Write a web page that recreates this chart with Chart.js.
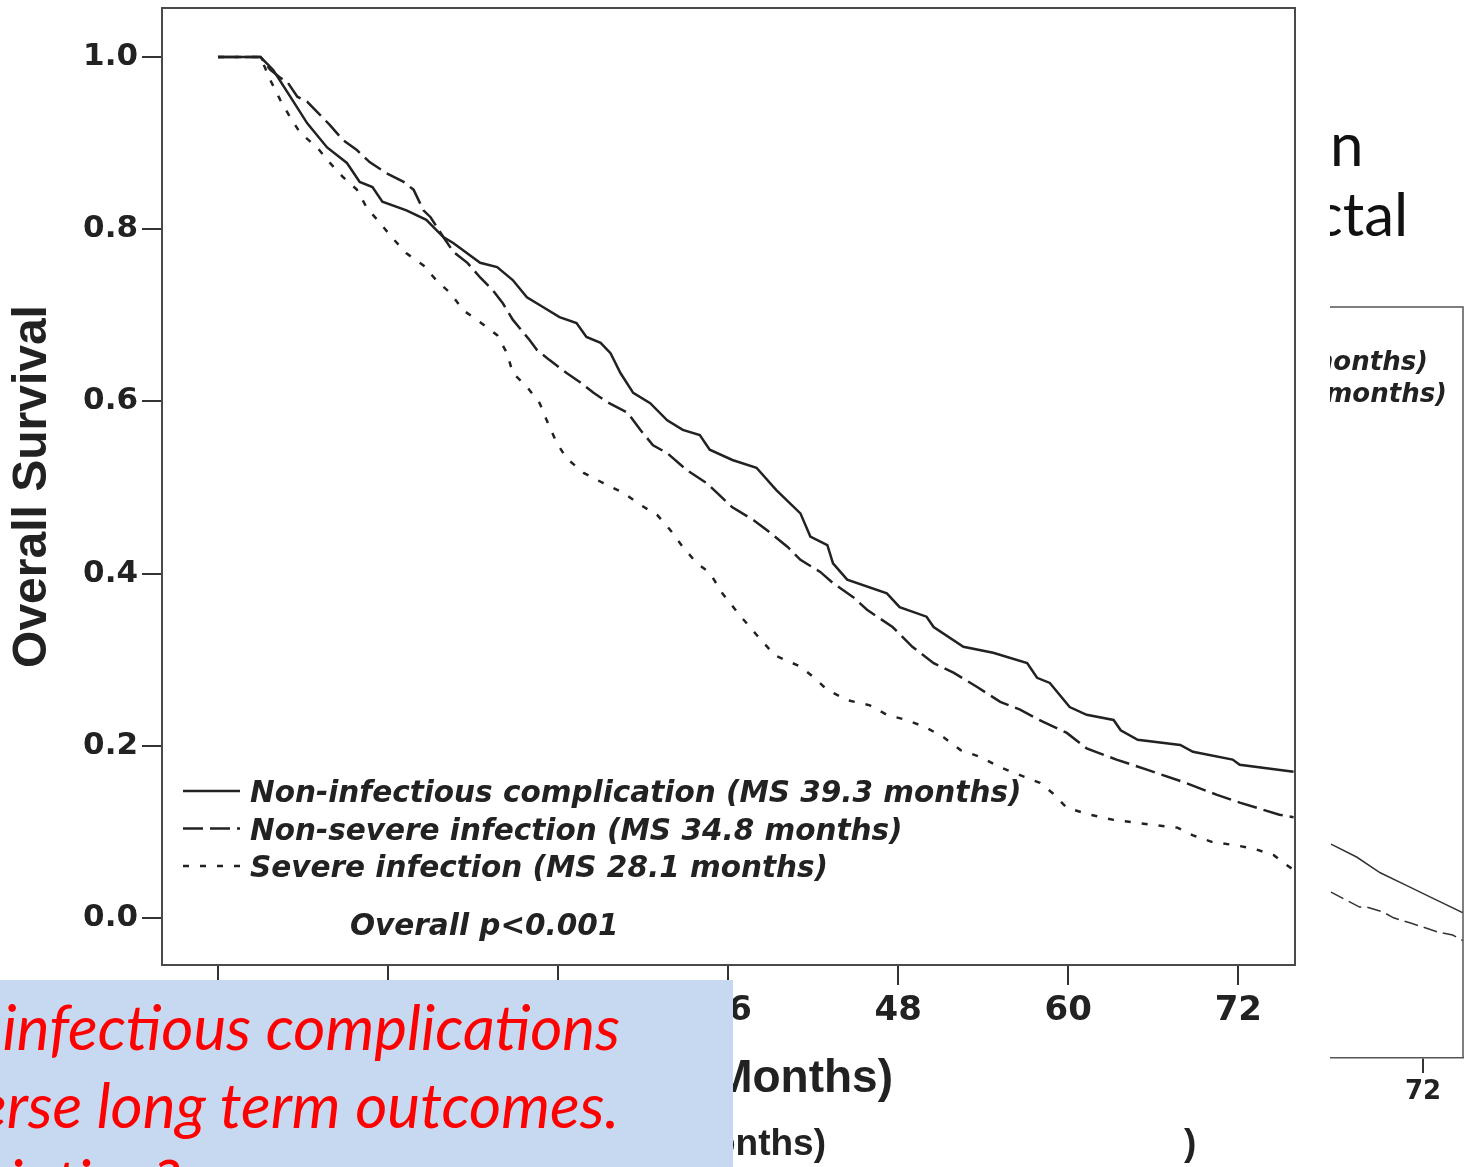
<!DOCTYPE html>
<html>
<head>
<meta charset="utf-8">
<script src="https://cdn.jsdelivr.net/npm/chart.js@4.4.0/dist/chart.umd.min.js"></script>
<style>
  html, body { margin: 0; padding: 0; background: #fff; }
  body { width: 1465px; height: 1167px; position: relative; overflow: hidden; }
  #main { position: absolute; left: 0; top: 0; z-index: 2; }
  #sideWrap { position: absolute; left: 1330px; top: 0; width: 135px; height: 1167px; overflow: hidden; z-index: 1; }
  #side { position: absolute; left: 0; top: 290px; }
  .slideTxt { position: absolute; font-family: Lato, 'Open Sans', sans-serif; font-size: 60px; line-height: 1; color: #111; white-space: nowrap; }
  .capTxt { position: absolute; font-family: 'Liberation Sans', sans-serif; font-weight: bold; font-size: 37px; line-height: 1; color: #222; white-space: nowrap; z-index: 3; }
  #note { position: absolute; left: 0; top: 980px; width: 733px; height: 187px; background: #c6d9f0; overflow: hidden; z-index: 5; }
  #note div { position: absolute; font-family: Lato, 'Open Sans', sans-serif; font-style: italic; font-size: 62px; line-height: 1; color: #ff0000; white-space: nowrap; }
</style>
</head>
<body>
<canvas id="main" width="1465" height="1167"></canvas>

<div id="sideWrap">
  <div class="slideTxt" style="left:0px; top:113px;">n</div>
  <div class="slideTxt" style="left:-16px; top:183px;">ctal</div>
  <canvas id="side" width="135" height="830"></canvas>
</div>

<div class="capTxt" style="right:639px; top:1124px;">(months)</div>
<div class="capTxt" style="left:1184px; top:1124px;">)</div>

<div id="note">
  <div style="right:113px; top:15px;">Do infectious complications</div>
  <div style="right:114px; top:93px;">adverse long term outcomes.</div>
  <div style="right:553px; top:170px;">Association?</div>
</div>

<script>
// ---- main chart data ----
const xTicks = [0, 12, 24, 36, 48, 60, 72];
const yTicks = [0, 0.2, 0.4, 0.6, 0.8, 1.0];
const seriesLabels = [
    'Non-infectious complication (MS 39.3 months)',
    'Non-severe infection (MS 34.8 months)',
    'Severe infection (MS 28.1 months)'
];
const pValueText = 'Overall p<0.001';

const nonInfMonths = [0, 3.0, 3.9, 5.1, 6.3, 7.7, 9.1, 10.0, 10.9, 11.6, 13.3, 14.7, 15.9, 16.6, 18.5, 19.7, 20.8, 21.8, 22.9, 24.1, 25.3, 26.0, 27.0, 27.7, 28.4, 29.3, 30.5, 31.7, 32.8, 34.0, 34.7, 36.3, 38.0, 39.4, 41.1, 41.8, 43.0, 43.4, 44.4, 47.2, 48.1, 50.0, 50.5, 52.6, 54.7, 57.1, 57.8, 58.7, 60.1, 61.3, 63.2, 63.7, 64.9, 67.9, 68.8, 71.6, 72.1, 75.9];
const nonInfSurv = [1.0, 1.0, 0.985, 0.954, 0.923, 0.895, 0.877, 0.855, 0.849, 0.832, 0.822, 0.811, 0.791, 0.784, 0.761, 0.756, 0.741, 0.721, 0.710, 0.698, 0.691, 0.675, 0.668, 0.656, 0.633, 0.610, 0.598, 0.578, 0.567, 0.561, 0.544, 0.532, 0.523, 0.497, 0.470, 0.443, 0.433, 0.412, 0.393, 0.377, 0.361, 0.350, 0.338, 0.315, 0.308, 0.296, 0.279, 0.273, 0.245, 0.236, 0.230, 0.218, 0.207, 0.201, 0.193, 0.184, 0.178, 0.170];

const nonSevMonths = [0, 3.0, 3.7, 4.4, 4.9, 5.6, 6.3, 7.2, 7.9, 8.8, 9.8, 10.7, 11.9, 13.1, 13.8, 14.5, 15.0, 15.9, 16.6, 17.6, 18.5, 19.4, 20.1, 20.8, 22.0, 22.5, 23.4, 24.6, 25.5, 26.5, 27.5, 28.9, 29.8, 30.7, 31.7, 33.1, 34.5, 35.2, 36.3, 37.8, 38.7, 40.2, 41.1, 42.5, 43.4, 44.8, 45.8, 47.6, 49.0, 50.5, 51.9, 53.6, 55.2, 56.6, 58.2, 59.9, 61.3, 63.4, 65.6, 68.1, 70.5, 72.1, 74.9, 75.9];
const nonSevSurv = [1.0, 1.0, 0.985, 0.976, 0.971, 0.954, 0.948, 0.933, 0.921, 0.904, 0.892, 0.878, 0.865, 0.855, 0.846, 0.822, 0.814, 0.791, 0.774, 0.761, 0.744, 0.729, 0.714, 0.695, 0.671, 0.660, 0.648, 0.633, 0.623, 0.610, 0.599, 0.587, 0.567, 0.549, 0.540, 0.520, 0.505, 0.494, 0.477, 0.462, 0.451, 0.431, 0.416, 0.402, 0.389, 0.373, 0.358, 0.338, 0.315, 0.296, 0.285, 0.268, 0.251, 0.242, 0.228, 0.215, 0.197, 0.184, 0.172, 0.158, 0.143, 0.134, 0.120, 0.117];

const sevMonths = [0, 3.0, 3.7, 4.4, 5.1, 5.8, 7.0, 7.9, 8.8, 9.8, 10.5, 11.4, 12.3, 13.3, 14.5, 15.5, 16.4, 17.3, 18.5, 19.7, 20.4, 20.8, 21.8, 22.7, 23.2, 23.9, 24.6, 25.8, 27.2, 28.6, 29.8, 31.0, 31.9, 32.8, 33.8, 34.7, 35.6, 36.8, 38.0, 39.3, 41.1, 42.0, 43.0, 44.4, 46.0, 47.2, 48.6, 50.0, 51.2, 52.4, 53.8, 55.2, 56.6, 58.0, 58.9, 59.9, 61.5, 63.2, 64.6, 66.0, 67.7, 68.8, 70.2, 71.6, 73.0, 74.5, 75.2, 75.9];
const sevSurv = [1.0, 1.0, 0.973, 0.950, 0.930, 0.912, 0.895, 0.877, 0.861, 0.846, 0.825, 0.808, 0.790, 0.772, 0.758, 0.739, 0.726, 0.706, 0.692, 0.677, 0.656, 0.633, 0.617, 0.598, 0.578, 0.552, 0.534, 0.517, 0.505, 0.494, 0.480, 0.468, 0.451, 0.431, 0.412, 0.401, 0.377, 0.352, 0.329, 0.305, 0.292, 0.280, 0.265, 0.253, 0.247, 0.236, 0.230, 0.221, 0.210, 0.195, 0.187, 0.175, 0.166, 0.157, 0.145, 0.128, 0.120, 0.114, 0.111, 0.108, 0.105, 0.096, 0.088, 0.085, 0.081, 0.073, 0.064, 0.056];

// ---- chart of the slide behind (only its right edge shows) ----
const sideTicks = [72];
const sideSolidMonths = [65.77, 67.5, 69.1, 70.9, 72.5, 74.7];
const sideSolidSurv = [0.299, 0.281, 0.259, 0.241, 0.225, 0.203];
const sideDashMonths = [65.77, 67.7, 68.2, 69.3, 70.0, 71.1, 72.0, 73.0, 74.0, 74.7];
const sideDashSurv = [0.232, 0.211, 0.211, 0.204, 0.196, 0.189, 0.183, 0.176, 0.172, 0.164];
const sideLegendTail = ['months)', 'months)'];

const ink = '#222';
const pts = (xs, ys) => xs.map((x, i) => ({ x: x, y: ys[i] }));
const dashes = [[], [20, 7], [6, 11]];

// box round the plot area
const framePlugin = {
    id: 'frame',
    afterDraw(chart) {
        const a = chart.chartArea, ctx = chart.ctx;
        ctx.save();
        ctx.strokeStyle = '#4a4a4a';
        ctx.lineWidth = 2;
        ctx.strokeRect(a.left, a.top, a.right - a.left, a.bottom - a.top);
        ctx.restore();
    }
};

// legend + p value drawn inside the plot, bottom left
const insideLegend = {
    id: 'insideLegend',
    afterDatasetsDraw(chart) {
        const ctx = chart.ctx;
        ctx.save();
        ctx.fillStyle = ink;
        ctx.strokeStyle = ink;
        ctx.lineWidth = 2.5;
        ctx.font = 'italic bold 29.5px "DejaVu Sans"';
        ctx.textBaseline = 'alphabetic';
        chart.data.datasets.forEach((ds, i) => {
            const base = 802 + i * 37.5;
            ctx.setLineDash(ds.borderDash || []);
            ctx.beginPath();
            ctx.moveTo(183, base - 11);
            ctx.lineTo(240, base - 11);
            ctx.stroke();
            ctx.setLineDash([]);
            ctx.fillText(ds.label, 250, base);
        });
        ctx.fillText(pValueText, 350, 935);
        // x axis title, left part is covered by the note box
        ctx.font = 'bold 46px "Liberation Sans"';
        ctx.textAlign = 'right';
        ctx.fillText('Time (Months)', 893, 1092);
        ctx.restore();
    }
};

new Chart(document.getElementById('main'), {
    type: 'line',
    data: {
        datasets: [
            { label: seriesLabels[0], data: pts(nonInfMonths, nonInfSurv), borderDash: dashes[0] },
            { label: seriesLabels[1], data: pts(nonSevMonths, nonSevSurv), borderDash: dashes[1] },
            { label: seriesLabels[2], data: pts(sevMonths, sevSurv), borderDash: dashes[2] }
        ].map(d => Object.assign(d, { borderColor: ink, borderWidth: 2.5, pointRadius: 0, tension: 0, fill: false }))
    },
    options: {
        responsive: false,
        animation: false,
        layout: { padding: { left: 0, top: 8, right: 170, bottom: 0 } },
        plugins: { legend: { display: false }, tooltip: { enabled: false } },
        scales: {
            x: {
                type: 'linear', min: -3.95, max: 76,
                afterBuildTicks: s => { s.ticks = xTicks.map(v => ({ value: v })); },
                afterFit: s => { s.height = 1167 - 965; s.paddingLeft = 0; s.paddingRight = 0; },
                grid: { drawOnChartArea: false, tickLength: 20, color: '#333', lineWidth: 2 },
                border: { color: '#4a4a4a', width: 2 },
                ticks: { font: { family: 'DejaVu Sans', weight: 'bold', size: 34 }, color: ink, padding: 6, maxRotation: 0, autoSkip: false, callback: v => String(v) }
            },
            y: {
                type: 'linear', min: -0.0546, max: 1.057,
                afterBuildTicks: s => { s.ticks = yTicks.map(v => ({ value: v })); },
                afterFit: s => { s.width = 162; s.paddingTop = 0; s.paddingBottom = 0; },
                grid: { drawOnChartArea: false, tickLength: 20, color: '#333', lineWidth: 2 },
                border: { color: '#4a4a4a', width: 2 },
                ticks: { font: { family: 'DejaVu Sans', weight: 'bold', size: 31 }, color: ink, padding: 4, callback: v => v.toFixed(1) },
                title: { display: true, text: 'Overall Survival', color: ink, font: { family: 'Liberation Sans', weight: 'bold', size: 48 }, padding: { top: 4, bottom: 0 } }
            }
        }
    },
    plugins: [framePlugin, insideLegend]
});

// background slide chart, clipped by its wrapper
const sideFrame = {
    id: 'sideFrame',
    afterDraw(chart) {
        const a = chart.chartArea, ctx = chart.ctx;
        ctx.save();
        ctx.strokeStyle = '#555';
        ctx.lineWidth = 1.5;
        ctx.beginPath();
        ctx.moveTo(a.left, a.top);
        ctx.lineTo(a.right, a.top);
        ctx.lineTo(a.right, a.bottom);
        ctx.stroke();
        ctx.fillStyle = ink;
        ctx.font = 'italic bold 26px "DejaVu Sans"';
        ctx.textAlign = 'right';
        ctx.fillText(sideLegendTail[0], 98, 80);
        ctx.fillText(sideLegendTail[1], 117, 112);
        ctx.restore();
    }
};

new Chart(document.getElementById('side'), {
    type: 'line',
    data: {
        datasets: [
            { data: pts(sideSolidMonths, sideSolidSurv), borderDash: [] },
            { data: pts(sideDashMonths, sideDashSurv), borderDash: [14, 6] }
        ].map(d => Object.assign(d, { borderColor: '#333', borderWidth: 1.5, pointRadius: 0, tension: 0, fill: false }))
    },
    options: {
        responsive: false,
        animation: false,
        layout: { padding: { left: 0, top: 17, right: 2, bottom: 0 } },
        plugins: { legend: { display: false }, tooltip: { enabled: false } },
        scales: {
            x: {
                type: 'linear', min: 65.7, max: 74.7,
                afterBuildTicks: s => { s.ticks = sideTicks.map(v => ({ value: v })); },
                afterFit: s => { s.height = 830 - 768; s.paddingLeft = 0; s.paddingRight = 0; },
                grid: { drawOnChartArea: false, tickLength: 15, color: '#333', lineWidth: 2 },
                border: { color: '#555', width: 1.5 },
                ticks: { font: { family: 'DejaVu Sans', weight: 'bold', size: 26 }, color: ink, padding: 4, maxRotation: 0, autoSkip: false }
            },
            y: { display: false, min: 0, max: 1.05 }
        }
    },
    plugins: [sideFrame]
});
</script>
</body>
</html>
